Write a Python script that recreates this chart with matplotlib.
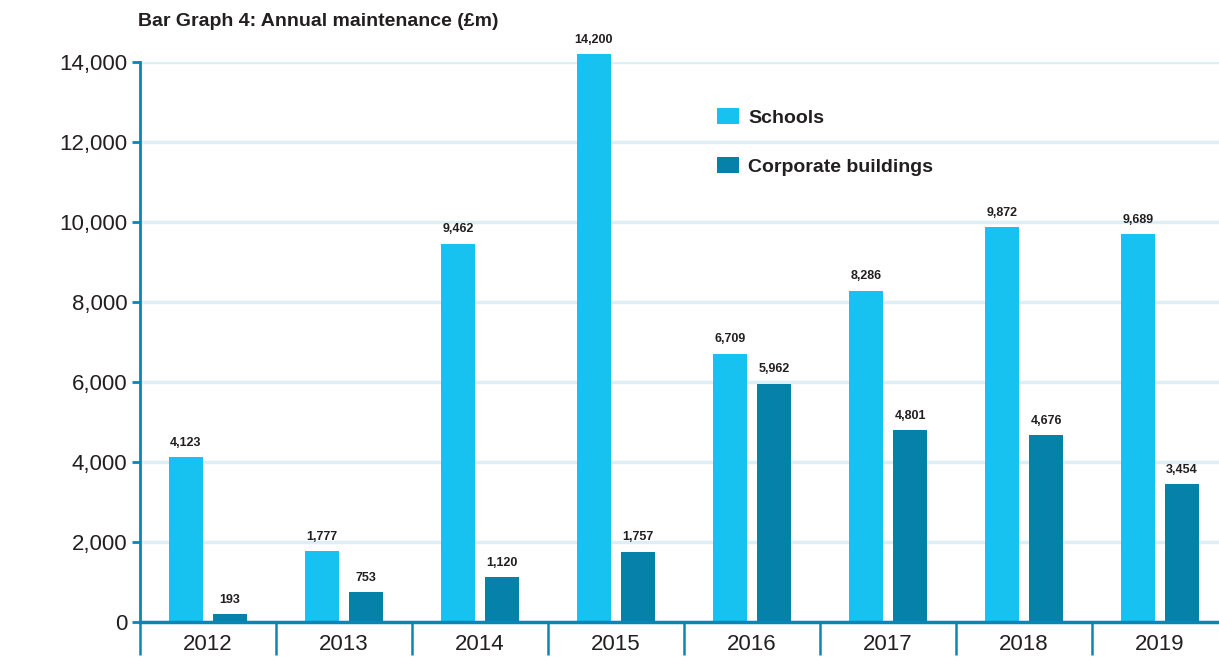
import matplotlib
matplotlib.use("Agg")
import matplotlib.pyplot as plt
import numpy as np
from matplotlib.ticker import FuncFormatter, FixedLocator

years = ["2012", "2013", "2014", "2015", "2016", "2017", "2018", "2019"]
schools = [4123, 1777, 9462, 14200, 6709, 8286, 9872, 9689]
corporate = [193, 753, 1120, 1757, 5962, 4801, 4676, 3454]
series_names = ["Schools", "Corporate buildings"]
title = "Bar Graph 4: Annual maintenance (£m)"

FONT = ["Liberation Sans Narrow", "Liberation Sans", "DejaVu Sans"]
plt.rcParams["font.family"] = FONT

C_SCH = "#17c2f1"
C_CORP = "#0581aa"
C_AX = "#0a86b4"
C_GRID = "#ddeef5"
C_TXT = "#231f20"

W, H = 1219, 660
fig = plt.figure(figsize=(W / 100, H / 100), dpi=100)
left = 140 / W
bottom = (H - 622) / H
height = (622 - 62) / H
width = 8 * 136 / W
ax = fig.add_axes([left, bottom, width, height])

x = np.arange(len(years))
bw = 0.25
off = 0.162
b1 = ax.bar(x - off, schools, bw, color=C_SCH, label=series_names[0], zorder=3, clip_on=False)
b2 = ax.bar(x + off, corporate, bw, color=C_CORP, label=series_names[1], zorder=3, clip_on=False)

for bars in (b1, b2):
    for r in bars:
        v = r.get_height()
        ax.annotate(f"{int(v):,}", (r.get_x() + r.get_width() / 2, v),
                    xytext=(0, 6), textcoords="offset points",
                    ha="center", va="bottom", fontsize=9, fontweight="bold",
                    color=C_TXT, annotation_clip=False)

ax.set_xlim(-0.5, 7.5)
ax.set_ylim(0, 14000)
ax.set_yticks(range(0, 14001, 2000))
ax.yaxis.set_major_formatter(FuncFormatter(lambda v, p: f"{int(v):,}"))
ax.tick_params(axis="y", length=6, width=2, color=C_AX, labelsize=16,
               labelcolor=C_TXT, pad=3)
ax.set_xticks(x)
ax.set_xticklabels(years)
ax.tick_params(axis="x", which="major", length=0, labelsize=16, labelcolor=C_TXT, pad=9)
ax.xaxis.set_minor_locator(FixedLocator(np.arange(-0.5, 7.0, 1.0)))
ax.tick_params(axis="x", which="minor", length=24, width=1.8, color=C_AX, direction="out")

ax.grid(axis="y", color=C_GRID, linewidth=2.5, zorder=0)
ax.set_axisbelow(True)
for s in ("top", "right"):
    ax.spines[s].set_visible(False)
ax.spines["left"].set_color(C_AX)
ax.spines["left"].set_linewidth(2)
ax.spines["bottom"].set_color(C_AX)
ax.spines["bottom"].set_linewidth(2.5)
ax.spines["bottom"].set_zorder(4)

leg = ax.legend(loc="upper left", bbox_to_anchor=(717 / W, 1 - 108 / H),
                bbox_transform=fig.transFigure, frameon=False,
                prop={"family": FONT, "weight": "bold", "size": 14},
                handlelength=1.15, handleheight=0.9, handletextpad=0.45,
                labelspacing=1.55, borderpad=0, borderaxespad=0)
for t in leg.get_texts():
    t.set_color(C_TXT)

fig.text(138 / W, 1 - 22 / H, title, ha="left", va="center", fontsize=14,
         fontweight="bold", color=C_TXT)

fig.savefig("out.png", dpi=100)
